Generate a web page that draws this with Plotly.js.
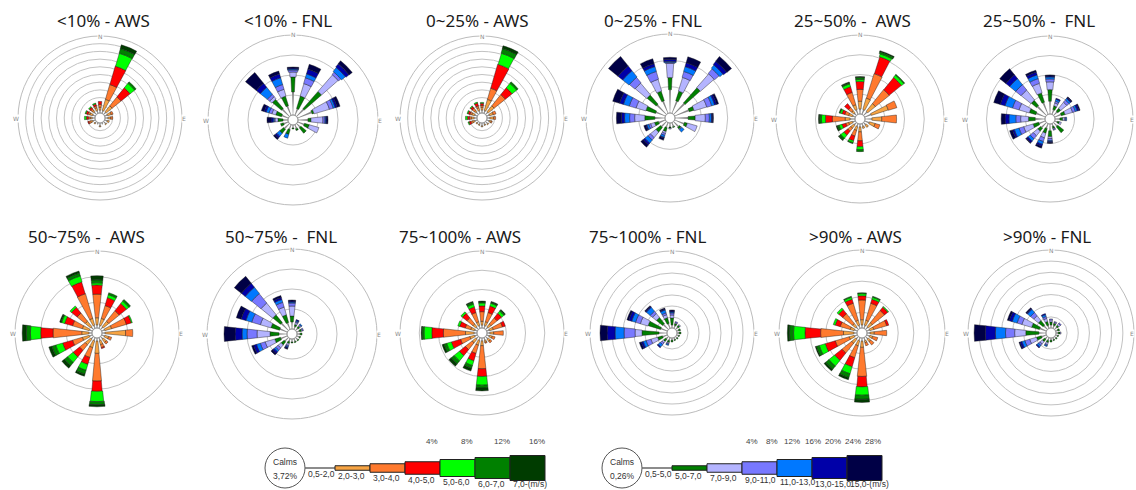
<!DOCTYPE html>
<html><head><meta charset="utf-8">
<script src="https://cdn.plot.ly/plotly-3.0.1.min.js"></script>
<style>html,body{margin:0;padding:0;background:#fff}#chart{width:1136px;height:490px}</style>
</head><body><div id="chart"></div>
<script>
const DIRECTIONS = ['N','NNE','NE','ENE','E','ESE','SE','SSE','S','SSW','SW','WSW','W','WNW','NW','NNW'];
const AWS_BINS = ['0,5-2,0','2,0-3,0','3,0-4,0','4,0-5,0','5,0-6,0','6,0-7,0','7,0-(m/s)'];
const FNL_BINS = ['0,5-5,0','5,0-7,0','7,0-9,0','9,0-11,0','11,0-13,0','13,0-15,0','15,0-(m/s)'];
const AWS_COLORS = ['#8a8a8a','#F7A443','#FF7A2E','#FF0000','#00FF00','#008000','#003C00'];
const FNL_COLORS = ['#8a8a8a','#008000','#B4B4FF','#7878FF','#0078FF','#0000A8','#000046'];
const AWS_CALMS = '3,72%';
const FNL_CALMS = '0,26%';
const AWS_SCALE = ['4%','8%','12%','16%'];
const FNL_SCALE = ['4%','8%','12%','16%','20%','24%','28%'];
const TITLES = ['<10% - AWS','<10% - FNL','0~25% - AWS','0~25% - FNL','25~50% -\u00a0 AWS','25~50% -\u00a0 FNL',
                '50~75% -\u00a0 AWS','50~75% -\u00a0 FNL','75~100% - AWS','75~100% - FNL','>90% - AWS','>90% - FNL'];
const COMPASS = ['N','E','W'];

// frequency (%) per direction (rows, N..NNW) per speed bin (columns, low..high)
const aws_lt10 = [
 [0.3,0.3,0.3,0.3,0,0,0],[0.3,1.2,1.6,2.0,1.4,0.5,0.4],[0.3,0.8,1.2,1.2,0.6,0.2,0],[0.3,0.4,0.2,0,0,0,0],
 [0.3,0.3,0.2,0,0,0,0],[0.3,0.2,0,0,0,0,0],[0.3,0.1,0,0,0,0,0],[0.2,0,0,0,0,0,0],
 [0.3,0.1,0,0,0,0,0],[0.2,0,0,0,0,0,0],[0.2,0.1,0,0,0,0,0],[0.3,0.2,0.2,0.1,0,0,0],
 [0.3,0.2,0.2,0.2,0.2,0,0],[0.3,0.3,0.2,0.2,0.1,0,0],[0.3,0.2,0.2,0.2,0.1,0,0],[0.3,0.3,0.2,0.2,0.1,0,0]];
const fnl_lt10 = [
 [2.3,1.5,0.5,0.2,0.1,0.1,0.1],[0.7,1.3,1.3,0.6,0.4,0.5,0.5],[1.0,2.3,2.2,0.3,0.5,0.4,0.4],[1.5,0.2,1.6,0.4,0.2,0.2,0.3],
 [1.0,0.3,1.2,0.2,0.1,0.1,0.1],[0.7,0.5,1.0,0,0,0,0],[0.5,0.7,0,0,0,0,0],[0.4,0.2,0,0,0,0,0],
 [0.3,0.1,0,0,0,0,0],[0.5,0.5,0,0,0.4,0,0],[0.7,0.5,0,0,0.4,0.2,0.2],[0.5,0.3,0,0,0,0,0],
 [0.5,0.5,0.3,0.1,0.1,0.2,0.4],[0.7,0.6,0.4,0.3,0.3,0.2,0.3],[1.0,1.2,0.3,0.3,0.9,0.5,1.4],[1.0,1.0,0.7,0.5,0.7,0.4,0.3]];
const aws_0_25 = [
 [0.3,0.3,0.2,0.2,0.1,0,0],[0.3,1.2,1.2,2.6,1.2,0.5,0.3],[0.3,0.8,1.5,0.9,0.6,0.2,0],[0.3,0.4,0.3,0,0,0,0],
 [0.3,0.4,0.2,0,0,0,0],[0.3,0.2,0.1,0,0,0,0],[0.3,0.1,0,0,0,0,0],[0.2,0.1,0,0,0,0,0],
 [0.3,0.1,0,0,0,0,0],[0.2,0.1,0,0,0,0,0],[0.2,0.1,0,0,0,0,0],[0.3,0.2,0.2,0.2,0.1,0,0],
 [0.3,0.3,0.2,0.2,0.2,0,0],[0.3,0.3,0.2,0.2,0.1,0,0],[0.3,0.2,0.3,0.2,0.1,0,0],[0.3,0.3,0.2,0.3,0.1,0,0]];
const fnl_0_25 = [
 [2.3,1.2,1.4,0.1,0.1,0.2,0.2],[1.3,1.0,1.4,0.6,0.5,0.4,0.6],[1.5,2.0,1.8,0.6,0.4,0.4,0.6],[1.5,0.5,1.3,0.5,0.3,0.2,0.2],
 [1.3,0.7,1.0,0.4,0.2,0.1,0.1],[1.0,0.3,1.0,0,0,0,0],[0.7,0.2,0,0.1,0.3,0,0],[0.4,0.1,0,0,0,0,0],
 [0.4,0.1,0.1,0,0,0,0],[0.5,0.4,0.2,0.2,0.2,0.1,0.2],[0.7,0.6,0.7,0.3,0.4,0.2,0.3],[0.7,0.4,0.4,0.2,0.2,0.1,0.2],
 [1.0,1.0,1.0,0.5,0.5,0.3,0.5],[1.0,1.0,1.0,0.7,0.6,0.4,0.7],[1.3,1.2,1.5,0.7,0.8,0.6,1.2],[1.3,1.0,1.2,0.8,0.5,0.3,0.5]];
const aws_25_50 = [
 [0.5,0.8,1.2,0.8,0.2,0.2,0.1],[0.5,1.2,2.6,1.8,0.3,0.2,0.1],[0.5,1.0,1.8,1.6,0.3,0.1,0],[0.7,1.8,0.9,0,0,0,0],
 [0.7,1.0,1.5,0,0,0,0],[0.5,0.6,0.5,0,0,0,0],[0.3,0.3,0,0,0,0,0],[0.3,0.2,0,0,0,0,0],
 [0.3,0.5,0.9,0.6,0.3,0.2,0],[0.3,0.4,0.6,0.5,0.2,0.1,0],[0.3,0.4,0.4,0.5,0.4,0.2,0.1],[0.3,0.4,0.3,0.4,0.3,0.2,0.1],
 [0.5,0.5,1.3,0.7,0.4,0.2,0.1],[0.3,0.4,0.4,0.3,0.2,0.1,0],[0.3,0.3,0.4,0.5,0,0,0],[0.5,0.5,1.3,0.6,0.3,0.1,0.1]];
const fnl_25_50 = [
 [1.3,1.2,0.8,0.3,0.2,0.1,0.1],[0.5,0.4,0.3,0.2,0.2,0.1,0],[0.5,0.4,0.8,0.3,0.2,0.1,0.1],[0.7,0.4,0.8,0.3,0.2,0.2,0.1],
 [0.5,0.3,0.2,0.1,0.1,0,0],[0.3,0.2,0.2,0,0,0,0],[0.5,0.8,0,0,0,0,0],[0.3,0.2,0.1,0.1,0,0,0],
 [0.7,0.6,0.2,0.2,0.1,0.1,0.1],[0.5,0.5,0.5,0.4,0.3,0.2,0.2],[0.7,0.4,0.6,0.4,0.3,0.2,0.1],[0.7,0.6,1.0,0.5,0.5,0.2,0.3],
 [1.0,0.7,0.8,0.5,0.7,0.4,0.4],[1.0,0.7,1.1,0.7,0.8,0.5,0.7],[1.3,0.7,1.3,0.7,0.8,0.5,0.8],[1.3,1.0,1.0,0.5,0.4,0.3,0.2]];
const aws_50_75 = [
 [0.3,0.7,2.3,0.9,0.2,0.3,0.4],[0.3,0.7,1.3,0.8,0.3,0.2,0],[0.3,0.7,1.3,0.9,0.3,0.2,0],[0.3,0.7,1.5,0.5,0.1,0,0],
 [0.3,2.0,0.7,0,0,0,0],[0.3,0.4,0.3,0,0,0,0],[0.3,0.4,0.2,0,0,0,0],[0.3,0.4,0.3,0.1,0,0,0],
 [0.3,1.2,2.7,1.0,1.0,0.3,0.2],[0.3,0.7,1.0,0.7,0.6,0.4,0.2],[0.3,0.7,0.7,0.8,0.7,0.4,0.3],[0.3,0.7,1.0,1.0,0.7,0.4,0.3],
 [0.3,0.7,2.8,1.2,1.0,0.4,0.4],[0.3,0.7,1.0,0.8,0.3,0.1,0.1],[0.3,0.7,1.0,0.7,0.2,0,0],[0.3,0.7,2.5,1.2,0.6,0.3,0.2]];
const fnl_50_75 = [
 [0.7,0.6,1.0,0.3,0.1,0.1,0.1],[0.3,0.2,0.2,0.1,0.1,0.1,0],[0.3,0.2,0.1,0.1,0.1,0,0],[0.3,0.2,0.1,0.1,0,0,0],
 [0.3,0.2,0,0,0,0,0],[0.3,0.1,0,0,0,0,0],[0.3,0.1,0,0,0,0,0],[0.3,0.1,0,0,0,0,0],
 [0.3,0.1,0,0,0,0,0],[0.3,0.2,0.2,0.1,0.1,0.1,0.1],[0.5,0.4,0.4,0.3,0.2,0.2,0.2],[0.7,0.6,1.0,0.5,0.4,0.3,0.2],
 [0.8,0.9,1.3,1.0,0.5,0.7,1.1],[0.8,0.9,1.1,0.9,0.6,0.5,0.5],[1.0,1.0,1.5,1.2,0.8,0.5,0.9],[0.7,0.8,0.8,0.5,0.3,0.2,0.2]];
const aws_75_100 = [
 [0.3,0.4,1.0,0.6,0.3,0.1,0.1],[0.3,0.4,1.0,0.7,0.3,0.1,0.1],[0.3,0.4,0.8,0.6,0.3,0.1,0.1],[0.3,0.4,1.0,0.3,0,0,0],
 [0.3,0.4,1.0,0,0,0,0],[0.3,0.3,0.3,0,0,0,0],[0.3,0.3,0.2,0,0,0,0],[0.3,0.2,0.1,0,0,0,0],
 [0.3,0.5,2.4,0.8,0.9,0.3,0.3],[0.3,0.5,0.9,0.8,0.5,0.3,0.3],[0.3,0.5,0.9,0.8,0.7,0.4,0.3],[0.3,0.5,1.0,1.0,0.5,0.3,0.2],
 [0.3,0.9,2.3,1.2,0.8,0.2,0.1],[0.3,0.4,0.6,0.6,0.2,0,0],[0.3,0.4,0.8,0.6,0.2,0,0],[0.3,0.4,1.0,0.6,0.3,0.2,0.1]];
const fnl_75_100 = [
 [0.3,0.7,0.3,0.2,0.1,0.1,0.1],[0.3,0.2,0.1,0.1,0,0,0],[0.3,0.2,0.1,0,0,0,0],[0.2,0.2,0,0,0,0,0],
 [0.2,0.2,0,0,0,0,0],[0.2,0.1,0,0,0,0,0],[0.2,0.1,0,0,0,0,0],[0.2,0.1,0,0,0,0,0],
 [0.2,0.2,0,0,0,0,0],[0.3,0.2,0.1,0.1,0.1,0,0],[0.3,0.3,0.2,0.2,0.3,0.1,0],[0.5,0.5,0.7,0.5,0.3,0.2,0.2],
 [0.8,1.7,0.7,1.1,0.9,0.8,0.7],[0.7,1.3,0.8,0.5,0.4,0.3,0.2],[0.7,0.8,0.5,0.3,0.5,0.1,0.1],[0.5,0.6,0.3,0.2,0.3,0.1,0.1]];
const aws_gt90 = [
 [0.3,0.5,1.9,0.4,0.2,0.1,0],[0.3,0.5,1.7,0.4,0.2,0.1,0],[0.3,0.5,1.5,0.4,0.1,0,0],[0.3,0.4,1.3,0.2,0,0,0],
 [0.3,0.4,1.2,0,0,0,0],[0.3,0.3,0.5,0,0,0,0],[0.3,0.3,0.4,0,0,0,0],[0.3,0.2,0.3,0,0,0,0],
 [0.3,0.6,2.8,1.0,0.8,0.4,0.3],[0.3,0.5,1.2,0.9,0.7,0.4,0.2],[0.3,0.5,1.2,0.9,0.7,0.4,0.2],[0.3,0.5,1.4,1.0,0.6,0.3,0.1],
 [0.3,1.0,2.2,1.5,1.1,0.4,0.2],[0.3,0.4,1.0,0.5,0.2,0,0],[0.3,0.4,1.2,0.5,0.2,0,0],[0.3,0.5,1.7,0.4,0.2,0.1,0]];
const fnl_gt90 = [
 [0.3,0.3,0.2,0.1,0,0,0],[0.3,0.2,0.1,0.1,0,0,0],[0.3,0.2,0.2,0.1,0,0,0],[0.2,0.2,0,0,0,0,0],
 [0.2,0.2,0.1,0,0,0,0],[0.2,0.1,0,0,0,0,0],[0.2,0.1,0,0,0,0,0],[0.2,0.1,0,0,0,0,0],
 [0.2,0.2,0,0,0,0,0],[0.3,0.2,0.2,0.1,0.1,0,0],[0.3,0.3,0.3,0.2,0.2,0.1,0],[0.5,0.5,0.7,0.5,0.3,0.2,0.1],
 [0.7,1.3,1.1,0.9,1.0,1.0,1.1],[0.7,0.8,1.0,0.5,0.5,0.3,0.2],[0.5,0.6,0.6,0.4,0.4,0.1,0.1],[0.3,0.4,0.3,0.2,0.2,0.1,0]];

const SERIES = [aws_lt10, fnl_lt10, aws_0_25, fnl_0_25, aws_25_50, fnl_25_50,
                aws_50_75, fnl_50_75, aws_75_100, fnl_75_100, aws_gt90, fnl_gt90];
// radial scale of each rose (max %, ring step %)
const RMAX = [8, 8, 8, 7.8, 8, 8, 7.5, 8, 8, 7.7, 7.5, 7.7];
const RING = [0.8, 2, 0.8, 2.6, 2, 2, 2.5, 2, 2, 1.1, 1.5, 1.1];

// ---- layout geometry (pixels) ----
const W = 1136, H = 490, HOLE = 5;
const GEO = [
 {cx:100,cy:118,R:82,tx:103},{cx:293,cy:120,R:85,tx:288},{cx:482,cy:118,R:82,tx:477},
 {cx:670,cy:118,R:84,tx:653},{cx:860,cy:119,R:84,tx:852},{cx:1050,cy:119,R:83,tx:1039},
 {cx:97,cy:333,R:82,tx:86},{cx:292,cy:334,R:85,tx:281},{cx:482,cy:333,R:82,tx:460},
 {cx:672,cy:333,R:82,tx:648},{cx:862,cy:333,R:83,tx:855},{cx:1051,cy:333,R:83,tx:1047}];
const BAR_PX = [1.2, 3.5, 6.5, 9.5, 12.5, 15, 17];
const MAX_DEG = 12.5;
const px = x => x / W, py = y => 1 - y / H;

const traces = [];
const layout = {width:W, height:H, margin:{l:0,r:0,t:0,b:0}, paper_bgcolor:'#fff', showlegend:false,
  annotations:[], shapes:[], font:{family:'Noto Sans, DejaVu Sans, sans-serif', color:'#222'}};

SERIES.forEach((data, k) => {
  const g = GEO[k], isAws = k % 2 === 0, colors = isAws ? AWS_COLORS : FNL_COLORS;
  const names = isAws ? AWS_BINS : FNL_BINS;
  const sub = k === 0 ? 'polar' : 'polar' + (k + 1);
  for (let b = 0; b < 7; b++) {
    const vals = data.map(row => row[b]);
    const base = data.map(row => row.slice(0, b).reduce((a, c) => a + c, 0));
    const widths = vals.map((v, i) => {
      const rm = HOLE + (base[i] + v / 2) / RMAX[k] * (g.R - HOLE);
      return Math.min(MAX_DEG, 2 * Math.atan(BAR_PX[b] / 2 / Math.max(rm, 1)) * 180 / Math.PI);
    });
    traces.push({type:'barpolar', subplot:sub, name:names[b],
      r: vals.map(v => v > 0 ? v : null), theta: DIRECTIONS.map((d, i) => i * 22.5), width: widths,
      marker:{color:colors[b], line:{color: b === 0 ? colors[0] : 'rgba(25,25,25,0.7)', width: b === 0 ? 0 : 0.6}},
      hoverinfo:'skip'});
  }
  layout[sub] = {
    domain:{x:[px(g.cx - g.R), px(g.cx + g.R)], y:[py(g.cy + g.R), py(g.cy - g.R)]},
    hole: HOLE / g.R, bgcolor:'#fff', barmode:'stack',
    radialaxis:{range:[0, RMAX[k]], tick0:0, dtick:RING[k], showticklabels:false, ticks:'', showline:false,
      gridcolor:'#c2c2c2', gridwidth:1, layer:'below traces'},
    angularaxis:{rotation:90, direction:'clockwise', showticklabels:false, showgrid:false, ticks:'',
      linecolor:'#bcbcbc', linewidth:1, layer:'below traces'}
  };
  layout.shapes.push({type:'circle', xref:'paper', yref:'paper', x0:px(g.cx - HOLE), x1:px(g.cx + HOLE),
    y0:py(g.cy + HOLE), y1:py(g.cy - HOLE), line:{color:'#8c8c8c', width:1}, fillcolor:'#fff'});
  // compass letters sitting on the outer ring
  const cpos = [[g.cx, g.cy - g.R], [Math.min(g.cx + g.R + 2, W - 4), g.cy], [g.cx - g.R - 2, g.cy]];
  COMPASS.forEach((c, j) => layout.annotations.push({text:c, xref:'paper', yref:'paper', x:px(cpos[j][0]), y:py(cpos[j][1]),
    xanchor:'center', yanchor:'middle', showarrow:false, bgcolor:'#fff', borderpad:0,
    font:{size:6, color:'#8a8a8a', family:'DejaVu Sans'}}));
  layout.annotations.push({text:TITLES[k], xref:'paper', yref:'paper', x:px(g.tx), y:py(g.cy < 200 ? 21 : 236),
    xanchor:'center', yanchor:'middle', showarrow:false, font:{size:17, color:'#1a1a1a', family:'Noto Sans, sans-serif'}});
});

// ---- speed legends ----
function addLegend(x0, bins, colors, calms, scale, sx, sstep) {
  const cy = 468, BOX_H = [1.5, 4.5, 8.5, 12.5, 17, 21, 25], BW = 35;
  const lf = {size:8.5, color:'#333', family:'Liberation Sans, Arial'};
  layout.shapes.push({type:'circle', xref:'paper', yref:'paper', x0:px(x0 - 40), x1:px(x0), y0:py(cy + 20), y1:py(cy - 20),
    line:{color:'#555', width:1}, fillcolor:'#fff'});
  layout.annotations.push({text:'Calms', xref:'paper', yref:'paper', x:px(x0 - 20), y:py(cy - 6),
    xanchor:'center', yanchor:'middle', showarrow:false, font:lf});
  layout.annotations.push({text:calms, xref:'paper', yref:'paper', x:px(x0 - 20), y:py(cy + 8),
    xanchor:'center', yanchor:'middle', showarrow:false, font:lf});
  bins.forEach((lab, b) => {
    const left = x0 + (b === 0 ? 0 : 30 + (b - 1) * BW), right = b === 0 ? x0 + 30 : left + BW;
    layout.shapes.push({type:'rect', xref:'paper', yref:'paper', x0:px(left), x1:px(right),
      y0:py(cy + BOX_H[b] / 2), y1:py(cy - BOX_H[b] / 2), fillcolor: b === 0 ? '#666' : colors[b],
      line:{color:'#222', width: b === 0 ? 0 : 1}});
    layout.annotations.push({text:lab, xref:'paper', yref:'paper', x:px(left + 1),
      y:py(Math.min(cy + BOX_H[b] / 2 + 5.5, 484)),
      xanchor:'left', yanchor:'middle', showarrow:false, font:lf});
  });
  scale.forEach((s, i) => layout.annotations.push({text:s, xref:'paper', yref:'paper', x:px(sx + i * sstep), y:py(441),
    xanchor:'center', yanchor:'middle', showarrow:false, font:{size:8, color:'#444', family:'Liberation Sans, Arial'}}));
}
addLegend(305, AWS_BINS, AWS_COLORS, AWS_CALMS, AWS_SCALE, 432, 35);
addLegend(642, FNL_BINS, FNL_COLORS, FNL_CALMS, FNL_SCALE, 752, 20.2);

Plotly.newPlot('chart', traces, layout, {staticPlot:true, displayModeBar:false});
</script></body></html>
